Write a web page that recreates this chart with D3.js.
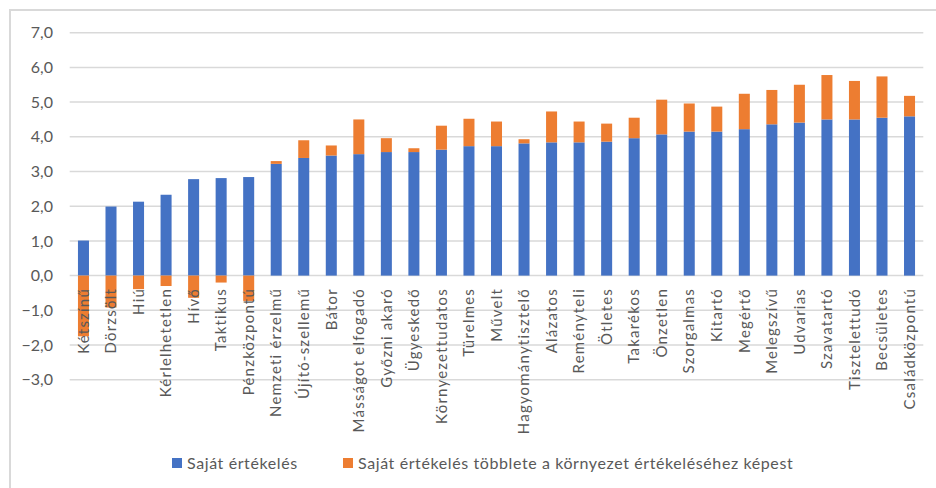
<!DOCTYPE html>
<html>
<head>
<meta charset="utf-8">
<script src="https://cdn.jsdelivr.net/npm/d3@7"></script>
<style>
  body { margin: 0; background: #fff; }
  text { font-family: Lato, "Open Sans", sans-serif; fill: #595959; }
</style>
</head>
<body>
<div id="chart"></div>
<script>
// tulajdonságok, saját értékelés, többlet a környezet értékeléséhez képest
var categories = ["Kétszínű", "Dörzsölt", "Hiú", "Kérlelhetetlen", "Hívő", "Taktikus", "Pénzközpontú",
    "Nemzeti érzelmű", "Újító-szellemű", "Bátor", "Másságot elfogadó", "Győzni akaró", "Ügyeskedő",
    "Környezettudatos", "Türelmes", "Művelt", "Hagyománytisztelő", "Alázatos", "Reményteli", "Ötletes",
    "Takarékos", "Önzetlen", "Szorgalmas", "Kitartó", "Megértő", "Melegszívű", "Udvarias", "Szavatartó",
    "Tisztelettudó", "Becsületes", "Családközpontú"];

var ownRating = [1.01, 1.99, 2.13, 2.33, 2.78, 2.81, 2.84,
    3.22, 3.39, 3.46, 3.50, 3.56, 3.56,
    3.63, 3.73, 3.73, 3.81, 3.84, 3.84, 3.86,
    3.96, 4.07, 4.15, 4.15, 4.22, 4.36, 4.41, 4.50,
    4.50, 4.55, 4.59];

var surplus = [-1.75, -0.92, -0.39, -0.30, -0.64, -0.20, -0.73,
    0.08, 0.51, 0.29, 1.00, 0.40, 0.11,
    0.69, 0.79, 0.71, 0.12, 0.89, 0.60, 0.52,
    0.59, 1.00, 0.81, 0.72, 1.02, 0.99, 1.09, 1.28,
    1.11, 1.19, 0.59];

var yTicks = [-3, -2, -1, 0, 1, 2, 3, 4, 5, 6, 7];

var seriesNames = ["Saját értékelés", "Saját értékelés többlete a környezet értékeléséhez képest"];
var colors = ["#4472C4", "#ED7D31"];

var width = 936,
    height = 488,
    plotLeft = 69.7,
    plotRight = 923.3;

var huFormat = d3.formatLocale({decimal: ",", thousands: " ", grouping: [3], currency: ["", " Ft"]}).format(".1f");

var svg = d3.select("#chart")
    .append("svg")
    .attr("width", width)
    .attr("height", height);

// chart frame (right and bottom edges fall outside the picture)
svg.append("rect")
    .attr("x", 10)
    .attr("y", 10)
    .attr("width", 940)
    .attr("height", 490)
    .style("fill", "none")
    .style("stroke", "#d9d9d9")
    .style("stroke-width", 2);

var x = d3.scaleBand()
    .domain(categories)
    .range([plotLeft, plotRight])
    .paddingInner(0.6)
    .paddingOuter(0.3);

var y = d3.scaleLinear()
    .domain([-3, 7])
    .range([379.7, 32.7]);

// gridlines
svg.append("g")
    .attr("class", "grid")
    .selectAll("line")
    .data(yTicks)
    .enter()
    .append("line")
    .attr("x1", plotLeft)
    .attr("x2", plotRight)
    .attr("y1", function(d) { return y(d); })
    .attr("y2", function(d) { return y(d); })
    .style("stroke", "#d9d9d9")
    .style("stroke-width", 1.5);

// y axis labels
var yAxis = d3.axisLeft(y)
    .tickValues(yTicks)
    .tickFormat(huFormat)
    .tickSize(0)
    .tickPadding(0);

svg.append("g")
    .attr("transform", "translate(53,0)")
    .call(yAxis)
    .call(function(g) { g.select(".domain").remove(); })
    .selectAll("text")
    .style("font-size", "16px")
    .style("font-family", "Lato, sans-serif")
    .attr("fill", "#595959");

// bars: blue from zero, orange stacked on top (or below zero when negative)
var rows = categories.map(function(c, i) {
    return {name: c, own: ownRating[i], extra: surplus[i]};
});

svg.append("g")
    .selectAll("rect")
    .data(rows)
    .enter()
    .append("rect")
    .attr("x", function(d) { return x(d.name); })
    .attr("width", x.bandwidth())
    .attr("y", function(d) { return y(d.own); })
    .attr("height", function(d) { return y(0) - y(d.own); })
    .style("fill", colors[0]);

svg.append("g")
    .selectAll("rect")
    .data(rows)
    .enter()
    .append("rect")
    .attr("x", function(d) { return x(d.name); })
    .attr("width", x.bandwidth())
    .attr("y", function(d) {
        return d.extra >= 0 ? y(d.own + d.extra) : y(0);
    })
    .attr("height", function(d) {
        return d.extra >= 0 ? y(d.own) - y(d.own + d.extra) : y(d.extra) - y(0);
    })
    .style("fill", colors[1]);

// category labels, rotated, hanging below the zero line
svg.append("g")
    .selectAll("text")
    .data(categories)
    .enter()
    .append("text")
    .attr("transform", function(d) {
        return "translate(" + (x(d) + x.bandwidth() / 2) + ",288)rotate(-90)";
    })
    .attr("dy", "0.35em")
    .attr("text-anchor", "end")
    .style("font-size", "15px")
    .style("letter-spacing", "1.2px")
    .text(function(d) { return d; });

// legend
var legendX = [172, 343];
var legend = svg.append("g")
    .selectAll("g")
    .data(seriesNames)
    .enter()
    .append("g")
    .attr("transform", function(d, i) { return "translate(" + legendX[i] + ",463)"; });

legend.append("rect")
    .attr("x", 0)
    .attr("y", -5)
    .attr("width", 10)
    .attr("height", 10)
    .style("fill", function(d, i) { return colors[i]; });

legend.append("text")
    .attr("x", 15)
    .attr("dy", "0.35em")
    .style("font-size", "16px")
    .style("letter-spacing", "0.6px")
    .text(function(d) { return d; });
</script>
</body>
</html>
